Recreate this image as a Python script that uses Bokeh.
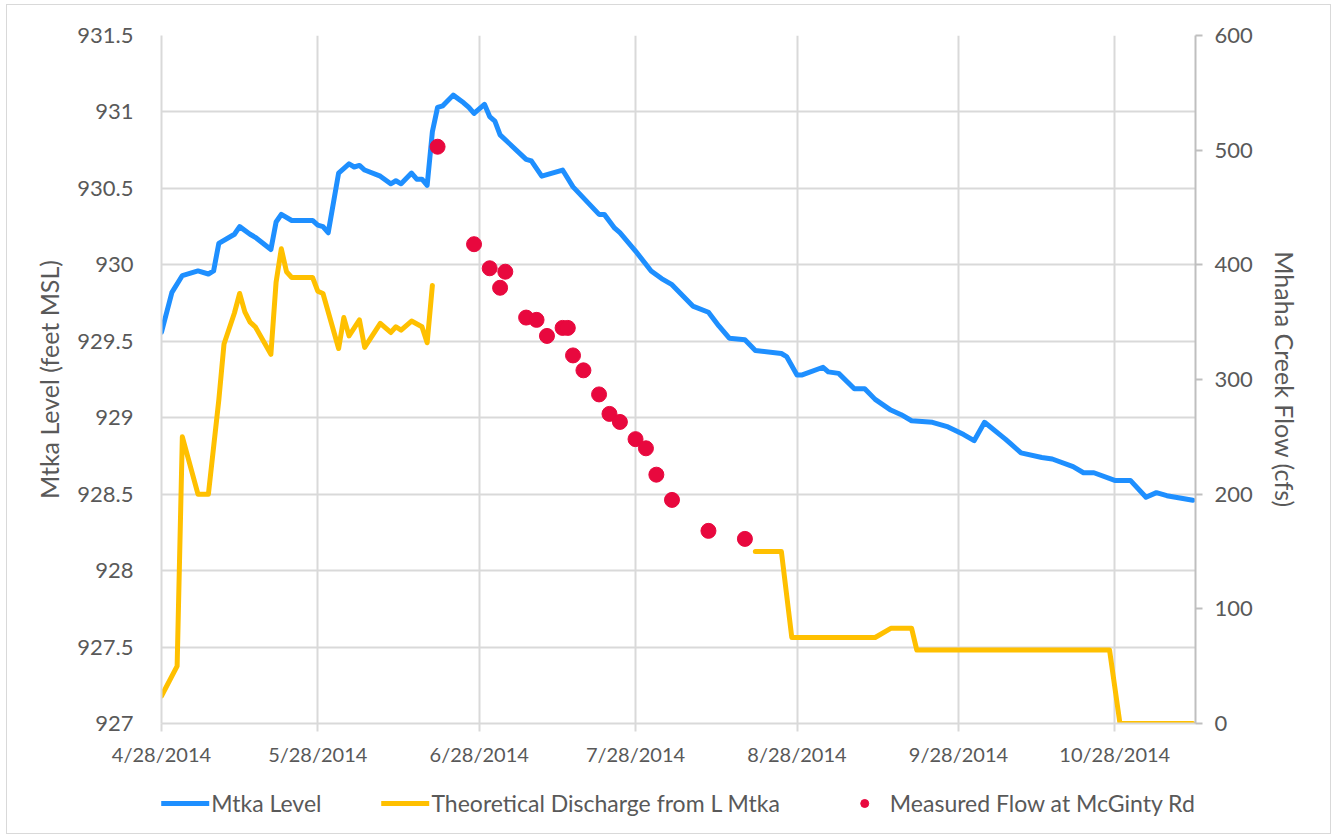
import numpy as np
import pandas as pd
from bokeh.plotting import figure
from bokeh.layouts import column
from bokeh.models import (Range1d, LinearAxis, FixedTicker, CustomJSTickFormatter,
                          Legend, LegendItem, ColumnDataSource)
from bokeh.embed import file_html
from bokeh.resources import INLINE

# ---------------- data ----------------
START = "2014-04-28"
END_DAY = 198.5

x_tick_dates = ["2014-04-28", "2014-05-28", "2014-06-28", "2014-07-28",
                "2014-08-28", "2014-09-28", "2014-10-28"]
x_tick_labels = ["4/28/2014", "5/28/2014", "6/28/2014", "7/28/2014",
                 "8/28/2014", "9/28/2014", "10/28/2014"]

left_ticks = [927, 927.5, 928, 928.5, 929, 929.5, 930, 930.5, 931, 931.5]
left_tick_labels = ["927", "927.5", "928", "928.5", "929", "929.5", "930",
                    "930.5", "931", "931.5"]
right_ticks = [0, 100, 200, 300, 400, 500, 600]
right_tick_labels = ["0", "100", "200", "300", "400", "500", "600"]

series_names = ["Mtka Level", "Theoretical Discharge from L Mtka",
                "Measured Flow at McGinty Rd"]

# Mtka Level (feet MSL) - days after START
level_day = [0, 2, 4, 7, 9, 10, 11, 14, 15, 17, 18, 21, 22, 23, 25, 29, 30, 31, 32,
             34, 36, 37, 38, 39, 42, 44, 45, 46, 48, 49, 50, 51, 52, 53, 54, 56, 58,
             59, 60, 62, 63, 64, 65, 70, 71, 73, 77, 79, 84, 85, 87, 88, 91, 94, 96,
             98, 102, 105, 107, 109, 112, 114, 119, 120, 122, 123, 127, 128, 130,
             133, 135, 137, 140, 142, 144, 148, 151, 154, 156, 158, 162, 163, 165,
             169, 171, 175, 177, 179, 183, 186, 189, 191, 193, 198]
level_ft = [929.56, 929.82, 929.93, 929.96, 929.94, 929.96, 930.14, 930.20, 930.25,
            930.20, 930.18, 930.10, 930.28, 930.33, 930.29, 930.29, 930.26, 930.25,
            930.21, 930.60, 930.66, 930.64, 930.65, 930.62, 930.58, 930.53, 930.55,
            930.53, 930.60, 930.56, 930.56, 930.52, 930.87, 931.03, 931.04, 931.11,
            931.06, 931.03, 930.99, 931.05, 930.97, 930.94, 930.85, 930.69, 930.68,
            930.58, 930.62, 930.51, 930.33, 930.33, 930.24, 930.21, 930.09, 929.96,
            929.91, 929.87, 929.73, 929.69, 929.60, 929.52, 929.51, 929.44, 929.42,
            929.40, 929.28, 929.28, 929.33, 929.30, 929.29, 929.19, 929.19, 929.12,
            929.05, 929.02, 928.98, 928.97, 928.94, 928.89, 928.85, 928.97, 928.86,
            928.83, 928.77, 928.74, 928.73, 928.68, 928.64, 928.64, 928.59, 928.59,
            928.48, 928.51, 928.49, 928.46]

# Theoretical Discharge from L Mtka (cfs) - NaN marks the data gap
discharge_day = [0, 3, 4, 7, 9, 11, 12, 14, 15, 16, 17, 18, 21, 22, 23, 24, 25, 29,
                 30, 31, 34, 35, 36, 38, 39, 42, 44, 45, 46, 48, 50, 51, 52,
                 80,
                 114, 119, 121, 137, 140, 144, 145, 182, 184, 198]
discharge_cfs = [24, 50, 250, 200, 200, 282, 331, 358, 375, 359, 350, 346, 322, 385,
                 414, 394, 389, 389, 377, 375, 327, 354, 338, 352, 328, 349, 341, 346,
                 343, 351, 346, 332, 382,
                 np.nan,
                 150, 150, 75, 75, 83, 83, 64, 64, 0, 0]

# Measured Flow at McGinty Rd (cfs)
measured_day = [53, 60, 63, 65, 66, 70, 72, 74, 77, 78, 79, 81, 84, 86, 88, 91, 93,
                95, 98, 105, 112]
measured_cfs = [503, 418, 397, 380, 394, 354, 352, 338, 345, 345, 321, 308, 287, 270,
                263, 248, 240, 217, 195, 168, 161]

# ---------------- helpers ----------------
start = pd.Timestamp(START)


def to_dates(days):
    return start + pd.to_timedelta(np.asarray(days, dtype=float), unit="D")


def to_ms(ts):
    return ts.value / 1e6


x_tick_ms = [to_ms(pd.Timestamp(d)) for d in x_tick_dates]

level_src = ColumnDataSource(dict(x=to_dates(level_day), y=level_ft))
dis_src = ColumnDataSource(dict(x=to_dates(discharge_day), y=discharge_cfs))
meas_src = ColumnDataSource(dict(x=to_dates(measured_day), y=measured_cfs))

FONT = "Lato"
TXT = "#595959"
GRID = "#d9d9d9"
BLUE = "#1E8FFF"
GOLD = "#FFC000"
RED = "#E8083E"

LOOKUP = """
for (let i = 0; i < tvals.length; i++) {
    if (Math.abs(tvals[i] - tick) < tol) return tlabels[i];
}
return "";
"""

p = figure(frame_width=1034, frame_height=688, x_axis_type="datetime",
           x_range=Range1d(to_ms(start), to_ms(start + pd.Timedelta(days=END_DAY))),
           y_range=Range1d(927, 931.5),
           output_backend="svg", toolbar_location=None,
           min_border_left=154, min_border_right=135, min_border_top=30,
           min_border_bottom=50)
p.outline_line_color = None
p.extra_y_ranges = {"flow": Range1d(0, 600)}

# grids
p.xgrid.grid_line_color = GRID
p.xgrid.grid_line_width = 2
p.ygrid.grid_line_color = GRID
p.ygrid.grid_line_width = 2

# x axis
xa = p.xaxis[0]
xa.ticker = FixedTicker(ticks=x_tick_ms)
xa.formatter = CustomJSTickFormatter(
    args=dict(tvals=x_tick_ms, tlabels=x_tick_labels, tol=1000), code=LOOKUP)
xa.axis_line_color = GRID
xa.axis_line_width = 2
xa.major_tick_line_color = GRID
xa.major_tick_line_width = 2
xa.major_tick_out = 8
xa.major_tick_in = 0
xa.minor_tick_line_color = None
xa.major_label_text_font = FONT
xa.major_label_text_font_size = "20px"
xa.major_label_text_color = TXT
xa.major_label_standoff = 10

# left axis
ya = p.yaxis[0]
ya.ticker = FixedTicker(ticks=left_ticks)
ya.formatter = CustomJSTickFormatter(
    args=dict(tvals=left_ticks, tlabels=left_tick_labels, tol=1e-6), code=LOOKUP)
ya.axis_line_color = GRID
ya.axis_line_width = 2
ya.major_tick_line_color = None
ya.minor_tick_line_color = None
ya.major_label_text_font = FONT
ya.major_label_text_font_size = "22px"
ya.major_label_text_color = TXT
ya.major_label_standoff = 22
ya.axis_label = "Mtka Level (feet MSL)"
ya.axis_label_text_font = FONT
ya.axis_label_text_font_size = "25px"
ya.axis_label_text_font_style = "normal"
ya.axis_label_text_color = TXT
ya.axis_label_standoff = 10

# right axis
ra = LinearAxis(y_range_name="flow", ticker=FixedTicker(ticks=right_ticks))
ra.formatter = CustomJSTickFormatter(
    args=dict(tvals=right_ticks, tlabels=right_tick_labels, tol=1e-6), code=LOOKUP)
ra.axis_line_color = "#bfbfbf"
ra.axis_line_width = 2
ra.major_tick_line_color = "#bfbfbf"
ra.major_tick_line_width = 2
ra.major_tick_out = 7
ra.major_tick_in = 0
ra.minor_tick_line_color = None
ra.major_label_text_font = FONT
ra.major_label_text_font_size = "22px"
ra.major_label_text_color = TXT
ra.major_label_standoff = 12
ra.axis_label = "Mhaha Creek Flow (cfs)"
ra.axis_label_text_font = FONT
ra.axis_label_text_font_size = "25px"
ra.axis_label_text_font_style = "normal"
ra.axis_label_text_color = TXT
ra.axis_label_standoff = 14
p.add_layout(ra, "right")

# series
p.line("x", "y", source=dis_src, y_range_name="flow", line_color=GOLD,
       line_width=5, line_join="round", line_cap="round")
p.line("x", "y", source=level_src, line_color=BLUE, line_width=5,
       line_join="round", line_cap="round")
p.scatter("x", "y", source=meas_src, y_range_name="flow", size=15,
          marker="circle", fill_color=RED, line_color=RED)

# ---------------- legend strip (below the chart) ----------------
lf = figure(width=1323, height=60, x_range=Range1d(0, 1), y_range=Range1d(0, 1),
            output_backend="svg", toolbar_location=None,
            min_border=0, min_border_left=0, min_border_right=0,
            min_border_top=0, min_border_bottom=0)
lf.axis.visible = False
lf.grid.visible = False
lf.outline_line_color = None
# swatch renderers: a single placeholder point kept outside the visible range
offscreen = dict(x=[-5.0], y=[-5.0])
g1 = lf.line("x", "y", source=ColumnDataSource(offscreen), line_color=BLUE,
             line_width=5, line_cap="round")
g2 = lf.line("x", "y", source=ColumnDataSource(offscreen), line_color=GOLD,
             line_width=5, line_cap="round")
g3 = lf.scatter("x", "y", source=ColumnDataSource(offscreen), size=15,
                marker="circle", fill_color=RED, line_color=RED)
legend = Legend(items=[LegendItem(label=series_names[0], renderers=[g1]),
                       LegendItem(label=series_names[1], renderers=[g2]),
                       LegendItem(label=series_names[2], renderers=[g3])],
                orientation="horizontal", location="center")
legend.label_text_font = FONT
legend.label_text_font_size = "23px"
legend.label_text_color = TXT
legend.glyph_width = 48
legend.glyph_height = 20
legend.label_standoff = 2
legend.spacing = 60
legend.border_line_color = None
legend.background_fill_alpha = 0
legend.margin = 0
legend.padding = 0
lf.add_layout(legend)

layout = column(p, lf, spacing=0,
                styles={"border": "1px solid #d9d9d9", "margin-left": "6px",
                        "margin-top": "4px"})

open("out.html", "w").write(file_html(layout, INLINE))
